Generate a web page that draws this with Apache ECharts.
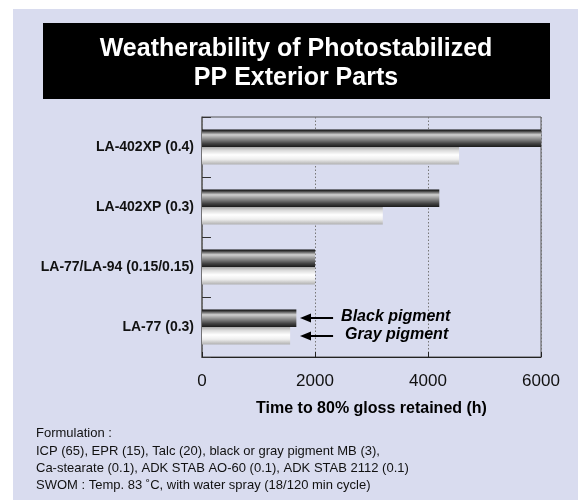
<!DOCTYPE html>
<html><head><meta charset="utf-8">
<script src="https://cdn.jsdelivr.net/npm/echarts@6/dist/echarts.min.js"></script>
<style>html,body{margin:0;padding:0;background:#fff}#c{width:578px;height:500px}</style>
</head><body><div id="c"></div>
<script>
const categories = ['LA-402XP (0.4)', 'LA-402XP (0.3)', 'LA-77/LA-94 (0.15/0.15)', 'LA-77 (0.3)'];
const blackPigment = [6000, 4200, 2000, 1670];
const grayPigment = [4550, 3200, 2000, 1560];
const xTicks = [0, 2000, 4000, 6000];
const titleLines = ['Weatherability of Photostabilized', 'PP Exterior Parts'];
const xAxisName = 'Time to 80% gloss retained (h)';
const footnote = [
  'Formulation :',
  'ICP (65), EPR (15), Talc (20), black or gray pigment MB (3),',
  'Ca-stearate (0.1), ADK STAB AO-60 (0.1), ADK STAB 2112 (0.1)',
  'SWOM : Temp. 83 \u02DAC, with water spray (18/120 min cycle)'
];
const F = '"Liberation Sans", Arial, Helvetica, sans-serif';

const blackGrad = new echarts.graphic.LinearGradient(0, 0, 0, 1, [
  {offset: 0, color: '#0a0a0a'}, {offset: 0.08, color: '#333'},
  {offset: 0.3, color: '#d0d0d0'}, {offset: 0.55, color: '#8a8a8a'},
  {offset: 0.8, color: '#444'}, {offset: 1, color: '#1a1a1a'}
]);
const grayGrad = new echarts.graphic.LinearGradient(0, 0, 0, 1, [
  {offset: 0, color: '#a8a8a8'}, {offset: 0.2, color: '#dcdcdc'},
  {offset: 0.45, color: '#ffffff'}, {offset: 0.7, color: '#eeeeee'},
  {offset: 1, color: '#b0b0b0'}
]);

const chart = echarts.init(document.getElementById('c'), null, {renderer: 'canvas'});
const option = {
  animation: false,
  backgroundColor: '#ffffff',
  graphic: [
    {type: 'rect', z: -10, shape: {x: 13, y: 9, width: 565, height: 491}, style: {fill: '#d9dcef'}},
    {type: 'rect', z: -9, shape: {x: 43, y: 23, width: 507, height: 76}, style: {fill: '#000'}},
    {type: 'text', x: 296, y: 64, z: 5, style: {text: titleLines.join('\n'), fill: '#fff', font: 'bold 25px ' + F, textAlign: 'center', textVerticalAlign: 'middle', lineHeight: 29}},
    {type: 'text', x: 36, y: 425, z: 5, style: {text: footnote.join('\n'), fill: '#111', font: '13px ' + F, lineHeight: 17.3}}
  ],
  grid: {left: 202, right: 37, top: 117, bottom: 143, show: true, borderColor: '#555', borderWidth: 1, backgroundColor: 'transparent'},
  xAxis: {
    type: 'value', min: 0, max: 6000, interval: 2000,
    name: xAxisName, nameLocation: 'middle', nameGap: 44,
    nameTextStyle: {fontFamily: F, fontWeight: 'bold', fontSize: 16, color: '#000'},
    axisLine: {show: true, lineStyle: {color: '#222', width: 1}},
    axisTick: {show: true, inside: true, length: 5, lineStyle: {color: '#222'}},
    axisLabel: {fontFamily: F, fontSize: 17, color: '#111', margin: 16,
      formatter: v => xTicks.indexOf(v) >= 0 ? String(v) : ''},
    splitLine: {show: true, lineStyle: {type: [1.5, 2], color: '#777', width: 1}}
  },
  yAxis: {
    type: 'category', data: categories, inverse: true,
    axisLine: {show: true, lineStyle: {color: '#666', width: 1.5}},
    axisTick: {show: true, inside: true, length: 9, lineStyle: {color: '#333'}},
    axisLabel: {fontFamily: F, fontWeight: 'bold', fontSize: 14, color: '#111', margin: 8},
    splitLine: {show: false}
  },
  series: [
    {name: 'Black pigment', type: 'bar', data: blackPigment, barWidth: 17.5, barGap: '0%',
      itemStyle: {color: blackGrad}},
    {name: 'Gray pigment', type: 'bar', data: grayPigment, barWidth: 17.5, barGap: '0%',
      itemStyle: {color: grayGrad}}
  ]
};
chart.setOption(option);

// arrows pointing to the last category bars
const last = categories.length - 1;
const arrowTip = 1735, arrowTail = 2320;
const ann = [];
[[-1, 'Black pigment', 8], [1, 'Gray pigment', 12]].forEach(([sgn, txt, dx]) => {
  const p1 = chart.convertToPixel({gridIndex: 0}, [arrowTip, categories[last]]);
  const p2 = chart.convertToPixel({gridIndex: 0}, [arrowTail, categories[last]]);
  const y = p1[1] + sgn * 9;
  ann.push({type: 'line', shape: {x1: p1[0] + 8, y1: y, x2: p2[0], y2: y}, style: {stroke: '#000', lineWidth: 2}, z: 10});
  ann.push({type: 'polygon', shape: {points: [[p1[0], y], [p1[0] + 11, y - 4.5], [p1[0] + 11, y + 4.5]]}, style: {fill: '#000'}, z: 10});
  ann.push({type: 'text', x: p2[0] + dx, y: y - 1, style: {text: txt, font: 'italic bold 16px ' + F, fill: '#000', textVerticalAlign: 'middle'}, z: 10});
});
chart.setOption({graphic: option.graphic.concat(ann)});
</script></body></html>
